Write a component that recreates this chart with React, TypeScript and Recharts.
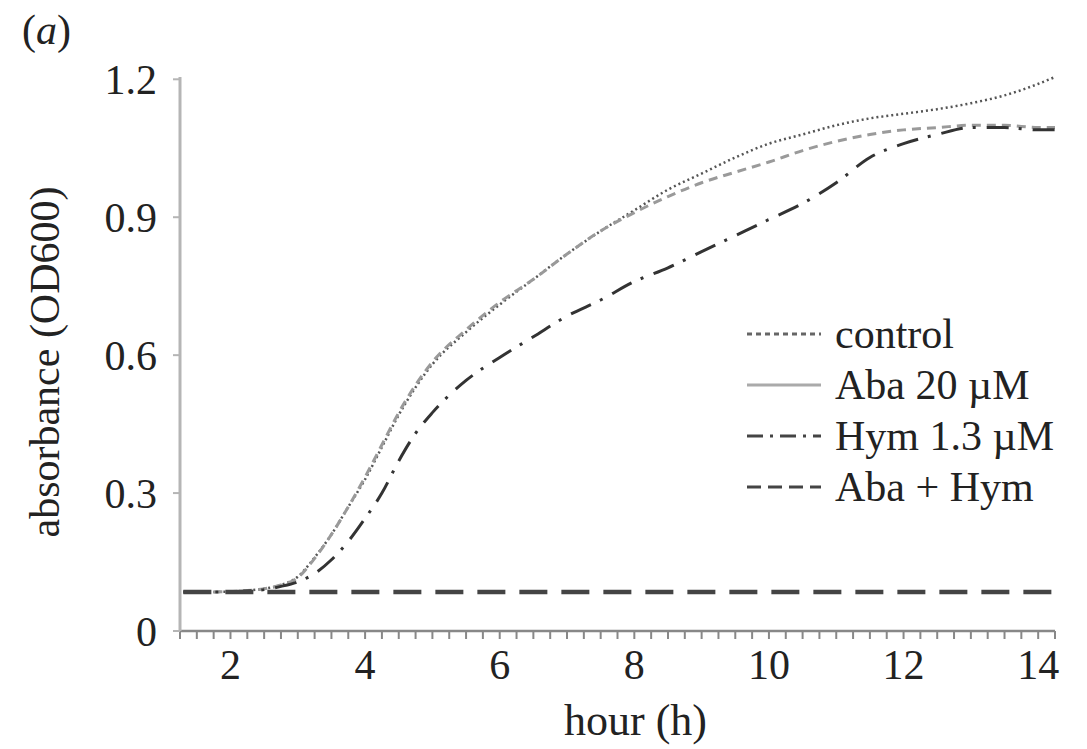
import React from "react";
import { Legend, Line, LineChart, XAxis, YAxis } from "recharts";

// growth curves, OD600
const hours = [1.3, 1.75, 2.25, 2.5, 2.75, 3, 3.25, 3.5, 3.75, 4, 4.25, 4.5, 4.75, 5, 5.5, 6, 6.5, 7, 7.5, 8, 8.5, 9, 9.5, 10, 10.5, 11, 11.5, 12, 12.5, 13, 13.5, 14, 14.25];
const control = [0.085, 0.085, 0.088, 0.092, 0.1, 0.118, 0.16, 0.21, 0.27, 0.33, 0.4, 0.47, 0.53, 0.58, 0.65, 0.71, 0.765, 0.82, 0.87, 0.915, 0.96, 0.995, 1.03, 1.06, 1.08, 1.1, 1.115, 1.125, 1.135, 1.148, 1.165, 1.19, 1.205];
const aba = [0.085, 0.085, 0.088, 0.092, 0.1, 0.116, 0.158, 0.21, 0.27, 0.335, 0.405, 0.475, 0.535, 0.585, 0.655, 0.715, 0.765, 0.82, 0.87, 0.91, 0.945, 0.975, 0.998, 1.02, 1.045, 1.065, 1.08, 1.09, 1.095, 1.1, 1.1, 1.095, 1.095];
const hym = [0.085, 0.085, 0.087, 0.09, 0.097, 0.107, 0.125, 0.155, 0.195, 0.245, 0.3, 0.37, 0.43, 0.475, 0.545, 0.595, 0.64, 0.685, 0.72, 0.76, 0.79, 0.825, 0.86, 0.895, 0.93, 0.975, 1.03, 1.06, 1.08, 1.095, 1.095, 1.09, 1.09];
const abaHym = [0.085, 0.085, 0.085, 0.085, 0.085, 0.085, 0.085, 0.085, 0.085, 0.085, 0.085, 0.085, 0.085, 0.085, 0.085, 0.085, 0.085, 0.085, 0.085, 0.085, 0.085, 0.085, 0.085, 0.085, 0.085, 0.085, 0.085, 0.085, 0.085, 0.085, 0.085, 0.085, 0.085];

const xLabels = [2, 4, 6, 8, 10, 12, 14];
const yTicks = [0, 0.3, 0.6, 0.9, 1.2];
const legendNames = ["control", "Aba 20 \u00b5M", "Hym 1.3 \u00b5M", "Aba + Hym"];

// minor ticks every quarter hour along the axis
const xTicks = Array.from({ length: 53 }, (_, i) => 1.25 + i * 0.25);

const data = hours.map((h, i) => ({
  hour: h,
  control: control[i],
  aba: aba[i],
  hym: hym[i],
  abaHym: abaHym[i],
}));

const FONT = "'Liberation Serif', 'Times New Roman', serif";

const styles = [
  { key: "control", stroke: "#555", width: 2.5, dash: "2 3", legendDash: "5 4", legendStroke: "#666" },
  { key: "aba", stroke: "#9a9a9a", width: 3, dash: "9 6", legendDash: undefined, legendStroke: "#aaa" },
  { key: "hym", stroke: "#333", width: 3, dash: "22 10 3 11", legendDash: "16 7 3 7", legendStroke: "#444" },
  { key: "abaHym", stroke: "#444", width: 4.5, dash: "28 14", legendDash: "14 7", legendStroke: "#444" },
];

function XTick(props: any) {
  const { x, y, payload } = props;
  if (!xLabels.includes(payload.value)) return <g />;
  return (
    <text x={x} y={y} dy="0.75em" textAnchor="middle" fill="#222" fontSize={42} fontFamily={FONT}>
      {payload.value}
    </text>
  );
}

function LegendBox() {
  return (
    <div style={{ fontFamily: FONT, fontSize: 42, color: "#222", textAlign: "left" }}>
      {styles.map((s, i) => (
        <div key={s.key} style={{ display: "flex", alignItems: "center", height: 51 }}>
          <svg width={86} height={20} style={{ marginRight: 4 }}>
            <line x1={2} y1={10} x2={76} y2={10} stroke={s.legendStroke} strokeWidth={3} strokeDasharray={s.legendDash} />
          </svg>
          <span style={{ whiteSpace: "nowrap" }}>{legendNames[i]}</span>
        </div>
      ))}
    </div>
  );
}

export default function App() {
  return (
    <div style={{ position: "absolute", left: 0, top: 0, width: 1087, height: 749, background: "#fff" }}>
      <div style={{ position: "absolute", left: 22, top: 6, fontFamily: FONT, fontSize: 42, color: "#222" }}>
        (<i>a</i>)
      </div>
      <LineChart width={1087} height={749} data={data} margin={{ top: 77, right: 32, left: 0, bottom: 0 }}>
        <XAxis
          dataKey="hour"
          type="number"
          domain={[1.25, 14.25]}
          ticks={xTicks}
          interval={0}
          tick={<XTick />}
          tickSize={8}
          tickMargin={8}
          height={118}
          stroke="#888"
          strokeWidth={2.5}
          tickLine={{ stroke: "#888", strokeWidth: 2 }}
          label={{ value: "hour (h)", position: "insideBottom", offset: 14, dx: 18, fill: "#222", fontSize: 44, fontFamily: FONT }}
        />
        <YAxis
          type="number"
          domain={[0, 1.2]}
          ticks={yTicks}
          interval={0}
          width={180}
          tickSize={7}
          tickMargin={16}
          stroke="#b5b5b5"
          strokeWidth={3}
          tickLine={{ stroke: "#b5b5b5", strokeWidth: 2 }}
          tick={{ fill: "#222", fontSize: 42, fontFamily: FONT }}
          tickFormatter={(v: number) => (v === 0 ? "0" : v.toFixed(1))}
          label={{ value: "absorbance (OD600)", angle: -90, position: "insideLeft", offset: 44, dy: 8, fill: "#222", fontSize: 42, fontFamily: FONT, style: { textAnchor: "middle" } }}
        />
        <Legend
          layout="horizontal"
          verticalAlign="middle"
          align="center"
          content={<LegendBox />}
          wrapperStyle={{ left: 745, top: 308, width: 340 }}
        />
        {styles.map((s) => (
          <Line
            key={s.key}
            type="monotone"
            dataKey={s.key}
            stroke={s.stroke}
            strokeWidth={s.width}
            strokeDasharray={s.dash}
            dot={false}
            activeDot={false}
            isAnimationActive={false}
          />
        ))}
      </LineChart>
    </div>
  );
}
